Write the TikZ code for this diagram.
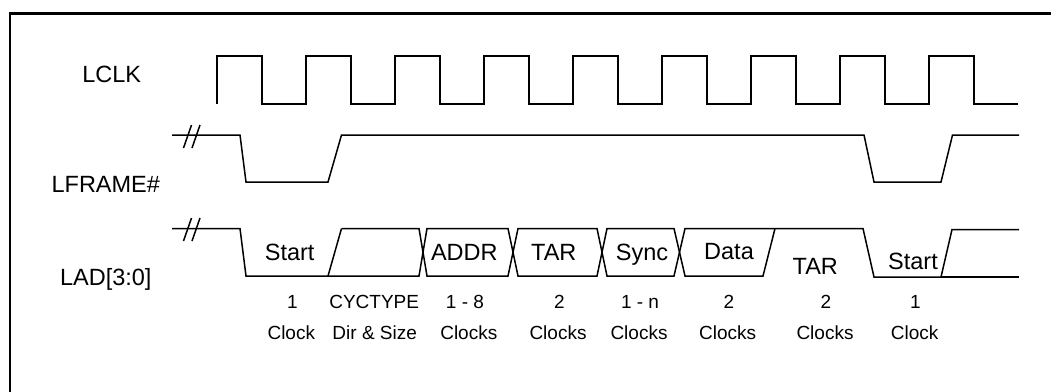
\documentclass[tikz,border=0pt]{standalone}
\usepackage{fontspec}
\setmainfont{Liberation Sans}
\begin{document}
\begin{tikzpicture}[x=1pt,y=-1pt,
  wave/.style={line width=1.5pt, line join=miter, black},
  frame/.style={line width=2.4pt, black},
  siglab/.style={anchor=base, inner sep=0pt, font=\fontsize{23.5}{28}\selectfont},
  clklab/.style={anchor=base, inner sep=0pt, font=\fontsize{19}{23}\selectfont}]
\useasboundingbox (0,0) rectangle (1051,391);
% frame (left and top edges)
\draw[frame] (10,395) -- (10,13.5) -- (1055,13.5);
% signal names
\node[siglab] (lclk) at (111.7,82) {LCLK};
\node[siglab] (lframe) at (105.8,192.5) {LFRAME\#};
\node[siglab] (lad) at (105.8,285) {LAD[3:0]};
% LCLK
\draw[wave] (217,104) foreach \k in {0,...,8} { -- ({217+89*\k},56) -- ({262+89*\k},56) -- ({262+89*\k},104) -- ({306+89*\k},104) };
% LFRAME#
\draw[wave] (172,135) -- (240,135) -- (246,182) -- (328,182) -- (341.5,135) -- (864,135) -- (874,182) -- (941,182) -- (952.5,135) -- (1019,135);
\draw[wave] (183.5,148) -- (191.5,125);
\draw[wave] (192,148) -- (200,125);
% LAD[3:0]
\draw[wave] (341.5,228.5) -- (419,228.5) -- (427,276) -- (508,276) -- (518,228.5) -- (597,228.5) -- (607,276) -- (674,276) -- (685,228.5) -- (863,228.5) -- (874,277) -- (941,277) -- (952,229.5) -- (1019,229.5);
\draw[wave] (172,228.5) -- (240,228.5) -- (246,276) -- (419,276) -- (427,228.5) -- (508,228.5) -- (518,276) -- (597,276) -- (607,228.5) -- (674,228.5) -- (685,276) -- (763,276) -- (775,228.5);
\draw[wave] (328,276) -- (341.5,228.5);
\draw[wave] (941,277) -- (1019,277);
\draw[wave] (183.5,241) -- (191.5,218);
\draw[wave] (192,241) -- (200,218);
% LAD field labels
\node[siglab] (f1) at (289.7,260) {Start};
\node[siglab] (f2) at (464.3,260) {ADDR};
\node[siglab] (f3) at (553.8,260) {TAR};
\node[siglab] (f4) at (642,260) {Sync};
\node[siglab] (f5) at (729,259.3) {Data};
\node[siglab] (f6) at (815.3,274) {TAR};
\node[siglab] (f7) at (913,269.3) {Start};
% clock counts
\node[clklab] (n1) at (292.5,308.3) {1};
\node[clklab] (c1) at (291.3,339.3) {Clock};
\node[clklab] (n2) at (374.2,308.3) {CYCTYPE};
\node[clklab] (c2) at (374.7,339.3) {Dir \& Size};
\node[clklab] (n3) at (465,308.3) {1 - 8};
\node[clklab] (c3) at (468.8,339.3) {Clocks};
\node[clklab] (n4) at (559.5,308.3) {2};
\node[clklab] (c4) at (558,339.3) {Clocks};
\node[clklab] (n5) at (640,308.3) {1 - n};
\node[clklab] (c5) at (639,339.3) {Clocks};
\node[clklab] (n6) at (728.8,308.3) {2};
\node[clklab] (c6) at (727.7,339.3) {Clocks};
\node[clklab] (n7) at (826,308.3) {2};
\node[clklab] (c7) at (825,339.3) {Clocks};
\node[clklab] (n8) at (915.5,308.3) {1};
\node[clklab] (c8) at (914.7,339.3) {Clock};
\end{tikzpicture}
\end{document}
